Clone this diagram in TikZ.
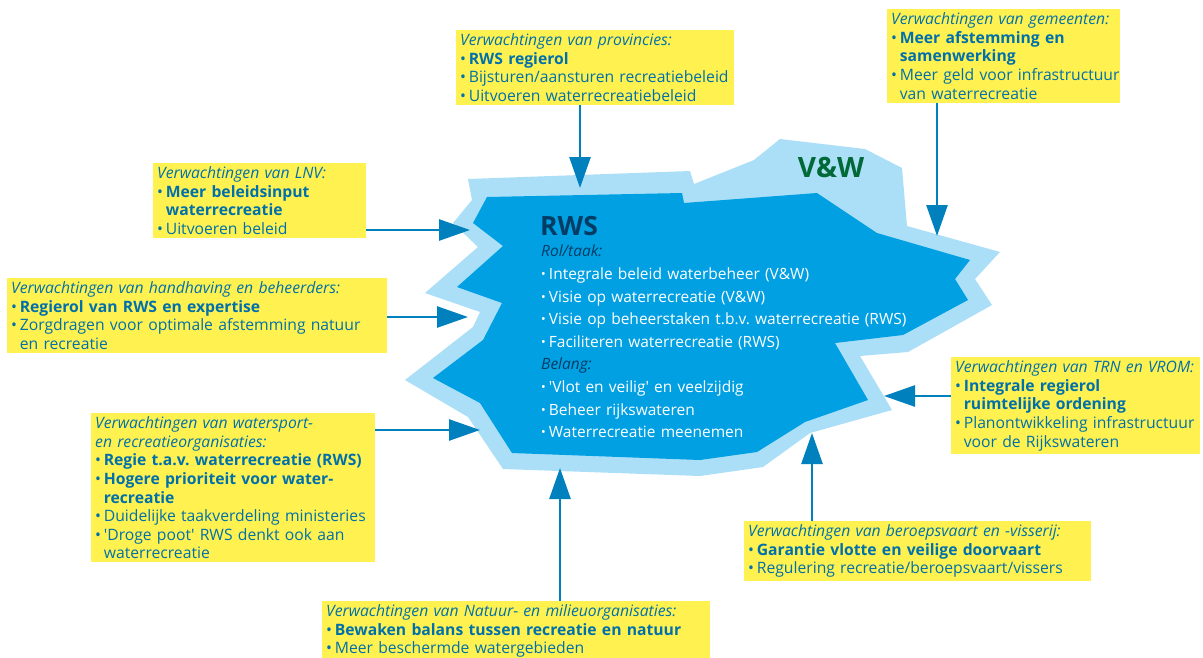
\documentclass[tikz,border=0pt]{standalone}
\usepackage{fontspec}
\setmainfont{Open Sans}
\usetikzlibrary{arrows.meta}
\setlength{\parindent}{0pt}
\frenchspacing
\definecolor{yel}{RGB}{255,242,80}
\definecolor{lblue}{RGB}{171,223,247}
\definecolor{dblue}{RGB}{0,160,227}
\definecolor{arrc}{RGB}{0,128,188}
\definecolor{txtc}{RGB}{0,112,170}
\definecolor{navy}{RGB}{0,60,100}
\definecolor{vwgreen}{RGB}{0,105,55}
\newcommand{\bitem}[1]{\par\noindent\makebox[0.55em][l]{•}#1\par}
\newcommand{\contline}[1]{\newline\hspace*{0.55em}\mbox{#1}}
\newcommand{\contpar}[1]{\par\noindent\hspace*{0.55em}\mbox{#1}\par}
\newcommand{\citem}[1]{\par\noindent\makebox[0.5em][l]{\raisebox{0.1ex}{\scalebox{0.8}{•}}}\mbox{#1}\par}
\tikzset{
  box/.style={fill=yel, anchor=north west, inner xsep=4pt, inner ysep=3.5pt,
    font=\fontsize{15.7}{18.6}\selectfont, text=txtc, align=left},
  arrowline/.style={draw=arrc, line width=2.6pt, -{Triangle[length=31pt,width=21pt]}},
}
\begin{document}
\begin{tikzpicture}[x=1pt,y=-1pt]
\useasboundingbox (0,0) rectangle (1203,657);
\fill[white] (0,0) rectangle (1203,657);

% blob
\fill[lblue] (468,179) -- (690,171) -- (694,184) -- (754,160) -- (780,139) -- (865,149) -- (902,168) -- (907,226) -- (1000,252) -- (975,279) -- (992,305) -- (908,352) -- (860,356) -- (892,410) -- (810,433) -- (763,467) -- (700,476) -- (503,469) -- (468,417) -- (405,380) -- (473,327) -- (480,312) -- (425,293) -- (478,247) -- (453,223) -- (472,200) -- cycle;
\fill[dblue] (487,197) -- (682,193) -- (684,203) -- (817,193) -- (877,233) -- (970,260) -- (955,279) -- (968,300) -- (903,335) -- (835,343) -- (868,400) -- (805,422) -- (757,452) -- (700,460) -- (512,453) -- (480,403) -- (433,378) -- (483,340) -- (502,303) -- (457,287) -- (503,246) -- (473,223) -- cycle;

\node[anchor=base, text=vwgreen, font=\fontsize{28}{30}\selectfont\bfseries, inner sep=0pt] (vw) at (831,177) {V\&W};
\node[anchor=base west, text=navy, font=\fontsize{26.5}{28}\selectfont\bfseries, inner sep=0pt] (rws) at (540,235) {RWS};
\node[anchor=north west, text=white, align=left, inner sep=0pt, text width=420pt,
  font=\fontsize{15.5}{22.6}\selectfont] (rol) at (541,245) {%
\noindent{\itshape\color{navy}Rol/taak:}
\citem{Integrale beleid waterbeheer (V\&W)}
\citem{Visie op waterrecreatie (V\&W)}
\citem{Visie op beheerstaken t.b.v. waterrecreatie (RWS)}
\citem{Faciliteren waterrecreatie (RWS)}
\noindent{\itshape\color{navy}Belang:}
\citem{\textquotesingle Vlot en veilig\textquotesingle\ en veelzijdig}
\citem{Beheer rijkswateren}
\citem{Waterrecreatie meenemen}};

% boxes
\node[box, text width=270pt] (prov) at (456,30) {\noindent\mbox{\textit{Verwachtingen van provincies:}}
\bitem{\mbox{\textbf{RWS regierol}}}
\bitem{\mbox{Bijsturen/aansturen recreatiebeleid}}
\bitem{\mbox{Uitvoeren waterrecreatiebeleid}}};

\node[box, text width=225pt] (gem) at (887,9) {\noindent\mbox{\textit{Verwachtingen van gemeenten:}}
\bitem{\mbox{\textbf{Meer afstemming en}}\contline{\textbf{samenwerking}}}
\bitem{\mbox{Meer geld voor infrastructuur}\contline{van waterrecreatie}}};

\node[box, text width=205pt] (lnv) at (153,163) {\noindent\mbox{\textit{Verwachtingen van LNV:}}
\bitem{\mbox{\textbf{Meer beleidsinput}}\contline{\textbf{waterrecreatie}}}
\bitem{\mbox{Uitvoeren beleid}}};

\node[box, text width=372pt] (hand) at (7,278) {\noindent\mbox{\textit{Verwachtingen van handhaving en beheerders:}}
\bitem{\mbox{\textbf{Regierol van RWS en expertise}}}
\bitem{\mbox{Zorgdragen voor optimale afstemming natuur}\contline{en recreatie}}};

\node[box, text width=276pt] (ws) at (91,413) {\noindent\mbox{\textit{Verwachtingen van watersport-}}\newline\mbox{\textit{en recreatieorganisaties:}}
\bitem{\mbox{\textbf{Regie t.a.v. waterrecreatie (RWS)}}}
\bitem{\mbox{\textbf{Hogere prioriteit voor water-}}\contline{\textbf{recreatie}}}
\bitem{\mbox{Duidelijke taakverdeling ministeries}}
\bitem{\mbox{\textquotesingle Droge poot\textquotesingle\ RWS denkt ook aan}}
\contpar{waterrecreatie}};

\node[box, text width=380pt] (nat) at (322,601) {\noindent\mbox{\textit{Verwachtingen van Natuur- en milieuorganisaties:}}
\bitem{\mbox{\textbf{Bewaken balans tussen recreatie en natuur}}}
\bitem{\mbox{Meer beschermde watergebieden}}};

\node[box, text width=339pt] (ber) at (744,521) {\noindent\mbox{\textit{Verwachtingen van beroepsvaart en -visserij:}}
\bitem{\mbox{\textbf{Garantie vlotte en veilige doorvaart}}}
\bitem{\mbox{Regulering recreatie/beroepsvaart/vissers}}};

\node[box, text width=241pt] (trn) at (951,357) {\noindent\mbox{\textit{Verwachtingen van TRN en VROM:}}
\bitem{\mbox{\textbf{Integrale regierol}}\contline{\textbf{ruimtelijke ordening}}}
\bitem{\mbox{Planontwikkeling infrastructuur}\contline{voor de Rijkswateren}}};

% arrow tips
\coordinate (tprov) at (580,188);
\coordinate (tgem) at (937,236);
\coordinate (tlnv) at (470,230);
\coordinate (thand) at (468,317);
\coordinate (tws) at (480,430);
\coordinate (tnat) at (560,468);
\coordinate (tber) at (812,433);
\coordinate (ttrn) at (884,396);

\draw[arrowline] (prov.south -| tprov) -- (tprov);
\draw[arrowline] (gem.south -| tgem) -- (tgem);
\draw[arrowline] (lnv.east |- tlnv) -- (tlnv);
\draw[arrowline] (hand.east |- thand) -- (thand);
\draw[arrowline] (ws.east |- tws) -- (tws);
\draw[arrowline] (nat.north -| tnat) -- (tnat);
\draw[arrowline] (ber.north -| tber) -- (tber);
\draw[arrowline] (trn.west |- ttrn) -- (ttrn);
\end{tikzpicture}
\end{document}
